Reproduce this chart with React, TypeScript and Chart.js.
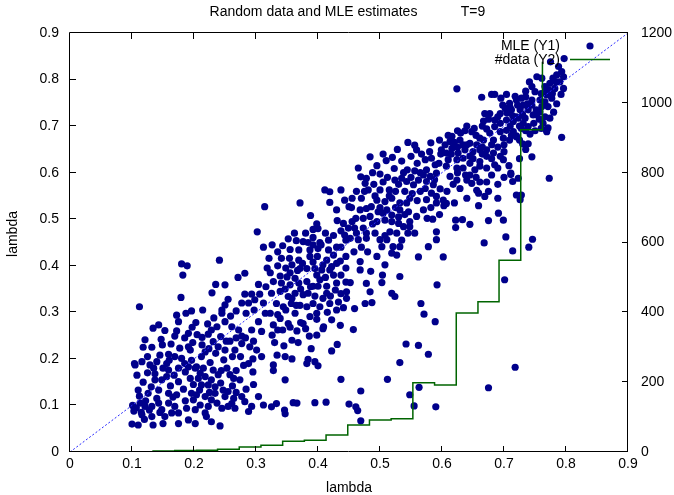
import React, { useEffect, useRef } from "react";
import { Chart, registerables } from "chart.js";
Chart.register(...registerables);

const titleMain = "Random data and MLE estimates";
const titleT = "T=9";
const xTitle = "lambda";
const yTitle = "lambda";
const legendMLE = "MLE (Y1)";
const legendData = "#data (Y2)";

const xTicks = [0, 0.1, 0.2, 0.3, 0.4, 0.5, 0.6, 0.7, 0.8, 0.9];
const xTickLabels = ["0", "0.1", "0.2", "0.3", "0.4", "0.5", "0.6", "0.7", "0.8", "0.9"];
const yTicks = [0, 0.1, 0.2, 0.3, 0.4, 0.5, 0.6, 0.7, 0.8, 0.9];
const yTickLabels = ["0", "0.1", "0.2", "0.3", "0.4", "0.5", "0.6", "0.7", "0.8", "0.9"];
const y2Ticks = [0, 200, 400, 600, 800, 1000, 1200];
const y2TickLabels = ["0", "200", "400", "600", "800", "1000", "1200"];

// #data (Y2) step series
const stepX = [0.099, 0.134, 0.169, 0.204, 0.238, 0.273, 0.308, 0.343, 0.378, 0.413, 0.448, 0.483, 0.518, 0.553, 0.588, 0.623, 0.658, 0.692, 0.727, 0.762];
const stepCount = [1, 3, 4, 5, 8, 14, 19, 31, 34, 49, 77, 92, 95, 198, 192, 398, 430, 549, 923, 1118];

// y = x reference line
const diagX = [0, 0.9];
const diagY = [0, 0.9];

// MLE (Y1) points, grouped by region
const ptsLow = [
  [0.180,0.404],[0.189,0.400],[0.182,0.380],[0.241,0.412],[0.179,0.332],[0.112,0.312],
  [0.271,0.375],[0.282,0.384],[0.235,0.360],[0.250,0.359],[0.229,0.342],[0.304,0.360],
  [0.282,0.339],[0.293,0.339],[0.306,0.339],[0.255,0.328],[0.250,0.316],[0.245,0.305],[0.245,0.298],
  [0.277,0.320],[0.288,0.320],[0.298,0.327],[0.196,0.303],[0.187,0.298],[0.172,0.294],[0.214,0.305],
  [0.175,0.280],[0.203,0.278],[0.143,0.273],[0.134,0.266],[0.153,0.261],[0.172,0.260],[0.169,0.249],
  [0.191,0.255],[0.205,0.252],[0.213,0.246],[0.223,0.253],
  [0.237,0.269],[0.250,0.280],[0.261,0.269],[0.272,0.262],[0.277,0.249],[0.293,0.262],[0.304,0.280],[0.309,0.259],
  [0.121,0.241],[0.147,0.242],[0.149,0.230],[0.132,0.225],[0.118,0.225],
  [0.177,0.223],[0.191,0.226],[0.194,0.219],[0.213,0.230],[0.218,0.215],
  [0.231,0.237],[0.239,0.226],[0.250,0.219],[0.266,0.219],[0.277,0.233],[0.290,0.226],[0.301,0.219],[0.309,0.205],
  [0.159,0.210],[0.169,0.205],[0.180,0.201],[0.185,0.190],[0.196,0.197],[0.204,0.183],[0.212,0.205],
  [0.105,0.187],[0.116,0.194],[0.129,0.187],[0.140,0.194],[0.156,0.190],[0.159,0.176],[0.150,0.180],
  [0.175,0.180],[0.191,0.183],[0.202,0.180],[0.215,0.180],
  [0.231,0.176],[0.239,0.166],[0.253,0.180],[0.258,0.166],[0.264,0.158],[0.274,0.155],[0.280,0.186],[0.288,0.190],
  [0.137,0.155],[0.148,0.155],[0.156,0.162],[0.175,0.151],[0.194,0.158],[0.210,0.169],[0.218,0.162],[0.212,0.144],[0.223,0.144],[0.234,0.140],
  [0.110,0.133],[0.126,0.126],[0.143,0.133],[0.159,0.126],[0.172,0.123],[0.196,0.126],[0.204,0.123],[0.209,0.133],
  [0.218,0.119],[0.234,0.126],[0.250,0.119],[0.255,0.130],[0.261,0.104],[0.277,0.119],[0.304,0.119],
  [0.113,0.105],[0.121,0.098],[0.132,0.098],[0.143,0.105],[0.148,0.091],[0.159,0.105],[0.169,0.098],[0.175,0.084],[0.188,0.094],[0.202,0.091],
  [0.210,0.101],[0.218,0.084],[0.223,0.098],[0.237,0.105],[0.245,0.094],[0.255,0.098],[0.266,0.094],[0.282,0.108],[0.293,0.098],[0.288,0.087],[0.312,0.101],
  [0.116,0.080],[0.132,0.076],[0.153,0.076],[0.164,0.084],[0.220,0.076],[0.228,0.065],[0.202,0.061],[0.191,0.069],[0.175,0.061],[0.150,0.061],
  [0.134,0.058],[0.110,0.058],[0.100,0.060],[0.242,0.056],
  [0.104,0.190],[0.101,0.100],[0.103,0.088],[0.107,0.095],[0.115,0.085],[0.122,0.110],[0.112,0.120],[0.128,0.090],[0.118,0.150],
  [0.125,0.170],[0.135,0.180],[0.108,0.165],[0.140,0.115],[0.131,0.140],[0.145,0.085],[0.120,0.070]
];

const ptsLowFill = [
  [0.162,0.142],[0.168,0.165],[0.183,0.135],[0.186,0.172],[0.199,0.145],[0.207,0.158],[0.225,0.128],[0.228,0.155],[0.243,0.148],[0.247,0.133],
  [0.262,0.142],[0.268,0.128],[0.284,0.135],[0.296,0.145],[0.163,0.232],[0.185,0.245],[0.198,0.235],[0.224,0.222],[0.228,0.262],[0.243,0.248],
  [0.258,0.238],[0.268,0.245],[0.283,0.245],[0.296,0.238],[0.259,0.292],[0.268,0.303],[0.284,0.298],[0.297,0.305],[0.232,0.288],[0.222,0.275],
  [0.197,0.268],[0.160,0.197],[0.145,0.208],[0.125,0.205],[0.137,0.168],[0.166,0.118],[0.186,0.110],[0.199,0.112],[0.228,0.112],[0.264,0.115],
  [0.244,0.175],[0.268,0.175],[0.295,0.172],[0.226,0.192],[0.248,0.198],[0.262,0.205],[0.275,0.205],[0.295,0.200],[0.235,0.212],[0.252,0.238]
];

const ptsMidLow = [
  [0.411,0.563],[0.419,0.559],[0.371,0.535],[0.314,0.527],[0.419,0.536],[0.430,0.520],[0.388,0.508],[0.398,0.490],[0.400,0.480],[0.302,0.473],[0.431,0.497],
  [0.365,0.454],[0.376,0.452],[0.384,0.450],[0.392,0.461],[0.403,0.450],
  [0.343,0.443],[0.355,0.435],[0.369,0.434],[0.387,0.434],[0.400,0.437],[0.417,0.434],[0.430,0.440],
  [0.321,0.416],[0.341,0.416],[0.354,0.416],[0.369,0.412],[0.387,0.420],[0.399,0.420],[0.414,0.412],[0.430,0.405],[0.425,0.423],
  [0.323,0.385],[0.339,0.378],[0.350,0.376],[0.363,0.373],[0.371,0.394],[0.382,0.394],[0.395,0.394],[0.406,0.391],[0.419,0.391],
  [0.328,0.366],[0.341,0.363],[0.355,0.359],[0.369,0.363],[0.382,0.366],[0.392,0.356],[0.403,0.370],[0.414,0.356],[0.430,0.363],
  [0.325,0.341],[0.339,0.345],[0.352,0.334],[0.363,0.341],[0.376,0.338],[0.384,0.341],[0.400,0.356],[0.414,0.341],[0.428,0.348],
  [0.333,0.319],[0.344,0.312],[0.357,0.319],[0.371,0.315],[0.382,0.312],[0.392,0.319],[0.403,0.312],[0.419,0.319],[0.430,0.305],
  [0.323,0.298],[0.339,0.287],[0.352,0.276],[0.363,0.298],[0.376,0.276],[0.387,0.291],[0.398,0.298],[0.409,0.269],[0.422,0.284],[0.328,0.273]
];

const ptsMidLowFill = [
  [0.312,0.320],[0.316,0.355],[0.318,0.395],[0.335,0.400],[0.348,0.395],[0.358,0.402],[0.375,0.405],[0.392,0.408],[0.408,0.402],[0.422,0.398],
  [0.436,0.410],[0.445,0.420],[0.437,0.440],[0.445,0.455],[0.437,0.475],[0.425,0.465],[0.412,0.470],[0.392,0.478],[0.380,0.470],[0.362,0.470],
  [0.352,0.458],[0.335,0.430],[0.326,0.445],[0.312,0.440],[0.347,0.350],[0.358,0.330],[0.372,0.350],[0.388,0.355],[0.395,0.335],[0.408,0.330],
  [0.420,0.335],[0.437,0.340],[0.437,0.380],[0.445,0.395],[0.425,0.380],[0.412,0.375],[0.398,0.380],[0.315,0.298],[0.335,0.295],[0.348,0.305],
  [0.365,0.315],[0.398,0.285],[0.415,0.300],[0.433,0.322],[0.445,0.365],[0.405,0.445],[0.417,0.455],[0.392,0.445],[0.355,0.385],[0.367,0.390]
];

const ptsMid = [
  [0.484,0.634],[0.510,0.626],[0.520,0.633],[0.556,0.659],[0.559,0.649],[0.582,0.664],[0.596,0.670],
  [0.523,0.609],[0.544,0.606],[0.556,0.604],
  [0.488,0.600],[0.500,0.597],[0.469,0.591],[0.478,0.588],[0.476,0.577],
  [0.524,0.584],[0.535,0.588],[0.543,0.581],[0.554,0.574],[0.562,0.584],
  [0.573,0.628],[0.583,0.631],[0.589,0.617],[0.575,0.606],[0.570,0.595],[0.581,0.592],[0.591,0.599],[0.575,0.581],[0.586,0.574],[0.573,0.566],
  [0.583,0.556],[0.591,0.549],[0.575,0.542],[0.591,0.535],
  [0.437,0.563],[0.443,0.541],[0.450,0.527],[0.454,0.525],
  [0.481,0.563],[0.500,0.563],[0.515,0.563],
  [0.495,0.541],[0.508,0.538],[0.519,0.545],[0.532,0.535],[0.543,0.535],[0.532,0.520],[0.546,0.516],[0.559,0.506],
  [0.468,0.520],[0.478,0.523],[0.486,0.527],[0.497,0.516],[0.505,0.513],[0.511,0.520],[0.519,0.509],
  [0.461,0.502],[0.473,0.502],[0.484,0.506],[0.495,0.495],[0.508,0.498],[0.519,0.495],[0.530,0.491],[0.538,0.484],[0.548,0.484],[0.556,0.470],
  [0.576,0.502],
  [0.441,0.491],[0.449,0.481],[0.459,0.481],[0.473,0.481],[0.478,0.470],[0.443,0.466],[0.452,0.459],[0.465,0.456],[0.478,0.459],[0.492,0.470],
  [0.500,0.456],[0.516,0.473],[0.527,0.470],[0.511,0.456],
  [0.503,0.441],[0.521,0.441],[0.532,0.441],[0.519,0.427],[0.527,0.423],
  [0.562,0.419],[0.578,0.441],[0.591,0.456],[0.591,0.473],
  [0.468,0.409],[0.468,0.391],[0.485,0.388],[0.508,0.402],[0.504,0.380],[0.503,0.364],[0.478,0.362],[0.484,0.344],[0.446,0.344],[0.452,0.364],
  [0.532,0.377],[0.519,0.341],[0.524,0.334],[0.592,0.359]
];

const ptsMidFill = [
  [0.455,0.545],[0.462,0.560],[0.470,0.545],[0.475,0.560],[0.490,0.575],[0.492,0.550],[0.505,0.580],[0.512,0.590],[0.515,0.550],[0.525,0.560],
  [0.530,0.575],[0.538,0.600],[0.540,0.560],[0.550,0.590],[0.552,0.555],[0.560,0.620],[0.565,0.560],[0.567,0.640],[0.580,0.645],[0.588,0.585],
  [0.595,0.620],[0.597,0.565],[0.598,0.640],[0.565,0.600],[0.548,0.545],[0.560,0.540],[0.570,0.520],[0.582,0.525],[0.596,0.510],[0.585,0.500],
  [0.540,0.510],[0.525,0.525],[0.500,0.525],[0.488,0.490],[0.462,0.470],[0.455,0.495],[0.470,0.440],[0.458,0.430],[0.480,0.430],[0.495,0.420],
  [0.508,0.465],[0.535,0.455],[0.545,0.470],[0.548,0.495],[0.530,0.505],[0.465,0.610],[0.495,0.615],[0.505,0.640],[0.535,0.625],[0.550,0.635],
  [0.528,0.650],[0.545,0.665]
];

const ptsUpper = [
  [0.624,0.780],[0.664,0.762],[0.680,0.768],[0.685,0.768],[0.704,0.768],[0.718,0.764],
  [0.709,0.749],[0.720,0.756],[0.702,0.738],[0.694,0.727],[0.712,0.735],
  [0.669,0.727],[0.677,0.727],[0.667,0.711],
  [0.685,0.713],[0.694,0.706],[0.704,0.713],[0.715,0.710],[0.720,0.720],
  [0.672,0.694],[0.685,0.699],[0.694,0.688],[0.704,0.691],[0.715,0.688],[0.720,0.677],[0.709,0.670],[0.699,0.674],[0.683,0.670],[0.677,0.685],[0.661,0.674],[0.667,0.670],
  [0.625,0.690],[0.637,0.690],[0.648,0.688],[0.616,0.678],[0.613,0.667],[0.629,0.670],[0.634,0.660],[0.645,0.663],[0.656,0.660],[0.661,0.649],
  [0.672,0.649],[0.683,0.642],[0.694,0.635],[0.672,0.635],[0.685,0.617],[0.661,0.614],[0.672,0.610],
  [0.699,0.628],[0.711,0.599],[0.723,0.588],[0.720,0.552],[0.726,0.542],
  [0.599,0.649],[0.607,0.642],[0.616,0.652],[0.626,0.642],[0.637,0.649],[0.645,0.635],[0.634,0.631],[0.624,0.628],[0.610,0.628],[0.645,0.620],
  [0.661,0.624],[0.653,0.606],[0.634,0.610],[0.624,0.610],[0.645,0.595],[0.624,0.584],[0.640,0.584],[0.648,0.577],[0.629,0.566],[0.613,0.592],[0.607,0.614],
  [0.661,0.580],[0.672,0.580],[0.656,0.562],[0.659,0.556],[0.669,0.549],[0.659,0.529],
  [0.602,0.541],[0.607,0.534],[0.603,0.529],
  [0.691,0.513],[0.675,0.497],[0.699,0.498],[0.645,0.489],[0.633,0.499],[0.622,0.498],[0.622,0.482],[0.602,0.419],[0.668,0.449],[0.703,0.462],[0.714,0.432]
];

const ptsUpperFill = [
  [0.605,0.660],[0.610,0.680],[0.620,0.665],[0.630,0.685],[0.640,0.700],[0.652,0.695],[0.655,0.680],[0.665,0.700],[0.675,0.715],[0.690,0.720],
  [0.698,0.745],[0.705,0.728],[0.714,0.722],[0.722,0.745],[0.728,0.760],[0.735,0.775],[0.745,0.745],[0.752,0.735],[0.760,0.770],[0.768,0.780],
  [0.778,0.770],[0.784,0.795],[0.792,0.768],[0.757,0.715],[0.760,0.695],[0.750,0.690],[0.735,0.690],[0.725,0.670],[0.712,0.680],[0.700,0.660],
  [0.690,0.655],[0.680,0.660],[0.665,0.655],[0.650,0.645],[0.640,0.660],[0.625,0.655],[0.615,0.640],[0.650,0.630],[0.665,0.640],[0.680,0.630],
  [0.690,0.610],[0.700,0.645],[0.708,0.615],[0.735,0.650],[0.725,0.630],[0.625,0.600],[0.638,0.595],[0.655,0.590],[0.618,0.575],[0.608,0.560],
  [0.640,0.545],[0.620,0.535],[0.680,0.595],[0.690,0.575],[0.700,0.590],[0.690,0.545],[0.675,0.560],[0.710,0.740],[0.695,0.760],[0.730,0.725],
  [0.738,0.748],[0.710,0.700],[0.725,0.700],[0.785,0.748],[0.780,0.730]
];

const ptsTop = [
  [0.797,0.845],[0.775,0.838],
  [0.788,0.828],[0.793,0.817],[0.785,0.810],[0.796,0.806],[0.790,0.795],[0.779,0.803],[0.774,0.792],[0.782,0.781],[0.796,0.781],[0.773,0.777],
  [0.766,0.785],[0.761,0.803],[0.753,0.806],[0.769,0.767],[0.777,0.760],[0.766,0.752],[0.758,0.756],[0.761,0.742],[0.771,0.742],[0.758,0.731],
  [0.766,0.720],[0.753,0.724],[0.774,0.717],[0.763,0.706],[0.769,0.688],[0.793,0.676],[0.773,0.588],
  [0.745,0.634],[0.711,0.596],[0.714,0.581],[0.728,0.552],
  [0.741,0.795],[0.745,0.785],[0.750,0.774],[0.735,0.763],[0.745,0.756],[0.731,0.745],[0.739,0.735],[0.726,0.735],[0.747,0.724],[0.734,0.717],
  [0.748,0.706],[0.739,0.699],[0.731,0.706],[0.723,0.717],[0.728,0.695],
  [0.720,0.679],[0.742,0.683],[0.730,0.662],[0.739,0.662],[0.768,0.692],[0.771,0.696],
  [0.746,0.457],[0.740,0.440],[0.701,0.370]
];

const ptsOutliers = [
  [0.566,0.319],[0.571,0.296],[0.589,0.280],[0.542,0.232],[0.562,0.229],[0.578,0.210],[0.532,0.192],[0.718,0.182],[0.675,0.138],
  [0.563,0.139],[0.548,0.123],[0.555,0.099],[0.590,0.097],
  [0.512,0.156],[0.469,0.131],[0.437,0.156],[0.469,0.067],[0.450,0.103],[0.461,0.097],[0.464,0.089],
  [0.413,0.107],[0.395,0.106],[0.360,0.106],[0.366,0.105],[0.346,0.090],[0.347,0.082],[0.333,0.104],[0.325,0.097],[0.347,0.155],
  [0.441,0.310],[0.459,0.308],[0.476,0.319],[0.487,0.321],[0.446,0.330],[0.436,0.272],[0.457,0.263],
  [0.422,0.217],[0.431,0.231],[0.398,0.251],[0.386,0.249],[0.368,0.235],[0.400,0.185],[0.395,0.194],[0.384,0.199],[0.382,0.190],
  [0.358,0.200],[0.347,0.205],[0.334,0.208],[0.328,0.187],[0.328,0.175],[0.389,0.222],
  [0.330,0.235],[0.345,0.228],[0.358,0.240],[0.366,0.260],[0.408,0.265],[0.380,0.265],
  [0.335,0.262],[0.326,0.251],[0.355,0.268],[0.372,0.278],[0.343,0.262]
];

const NAVY = "#00008b";
const GREEN = "#006400";
const FONT = '"Liberation Sans", Arial, Helvetica, sans-serif';

const decorPlugin = {
  id: "decor",
  afterDatasetsDraw(chart: any) {
    const { ctx, chartArea: a, scales } = chart;
    ctx.save();
    ctx.strokeStyle = "#000";
    ctx.lineWidth = 1;
    ctx.beginPath();
    ctx.rect(a.left - 0.5, a.top - 0.5, a.right - a.left, a.bottom - a.top);
    const T = 6;
    xTicks.forEach((v) => {
      const p = Math.round(scales.x.getPixelForValue(v)) - 0.5;
      ctx.moveTo(p, a.bottom);
      ctx.lineTo(p, a.bottom - T);
      ctx.moveTo(p, a.top);
      ctx.lineTo(p, a.top + T);
    });
    yTicks.forEach((v) => {
      const p = Math.round(scales.y.getPixelForValue(v)) - 0.5;
      ctx.moveTo(a.left, p);
      ctx.lineTo(a.left + T, p);
    });
    y2Ticks.forEach((v) => {
      const p = Math.round(scales.y2.getPixelForValue(v)) - 0.5;
      ctx.moveTo(a.right, p);
      ctx.lineTo(a.right - T, p);
    });
    ctx.stroke();
    ctx.restore();
  },
  afterDraw(chart: any) {
    const { ctx, chartArea: a } = chart;
    ctx.save();
    ctx.fillStyle = "#000";
    ctx.font = "14px " + FONT;
    ctx.textBaseline = "alphabetic";
    ctx.textAlign = "center";
    ctx.fillText(titleMain, a.left + 243.5, 16);
    ctx.fillText(titleT, a.left + 403, 16);
    ctx.fillText(xTitle, (a.left + a.right) / 2, 492);
    ctx.save();
    ctx.translate(17, 234);
    ctx.rotate(-Math.PI / 2);
    ctx.fillText(yTitle, 0, 0);
    ctx.restore();
    // key
    ctx.textAlign = "right";
    ctx.textBaseline = "middle";
    ctx.fillText(legendMLE, a.right - 68, a.top + 13);
    ctx.fillText(legendData, a.right - 68, a.top + 27);
    ctx.fillStyle = NAVY;
    ctx.beginPath();
    ctx.arc(a.right - 38, a.top + 13, 3.6, 0, Math.PI * 2);
    ctx.fill();
    ctx.strokeStyle = GREEN;
    ctx.lineWidth = 1.5;
    ctx.beginPath();
    ctx.moveTo(a.right - 58, a.top + 26.5);
    ctx.lineTo(a.right - 18, a.top + 26.5);
    ctx.stroke();
    ctx.restore();
  },
};

export default function App() {
  const ref = useRef<HTMLCanvasElement | null>(null);
  useEffect(() => {
    if (!ref.current) return;
    const allPts = [
      ...ptsLow, ...ptsLowFill, ...ptsMidLow, ...ptsMidLowFill, ...ptsMid, ...ptsMidFill,
      ...ptsUpper, ...ptsUpperFill, ...ptsTop, ...ptsOutliers,
    ].map(([x, y]) => ({ x, y }));
    const tickFont = { size: 14, family: FONT };
    const chart = new Chart(ref.current, {
      type: "scatter",
      data: {
        datasets: [
          {
            type: "line",
            data: diagX.map((x, i) => ({ x, y: diagY[i] })),
            yAxisID: "y",
            borderColor: "#2a2aff",
            borderWidth: 1,
            borderDash: [2, 2],
            pointRadius: 0,
            fill: false,
            order: 1,
          } as any,
          {
            type: "line",
            data: stepX.map((x, i) => ({ x, y: stepCount[i] })),
            yAxisID: "y2",
            borderColor: GREEN,
            borderWidth: 1.5,
            stepped: "before",
            pointRadius: 0,
            fill: false,
            order: 2,
          } as any,
          {
            type: "scatter",
            data: allPts,
            yAxisID: "y",
            pointRadius: 3.6,
            pointBorderWidth: 0,
            pointBackgroundColor: NAVY,
            borderColor: NAVY,
            backgroundColor: NAVY,
            order: 3,
          } as any,
        ],
      },
      options: {
        animation: false,
        responsive: false,
        events: [],
        layout: { padding: { top: 33, left: 0, right: 0, bottom: 0 } },
        plugins: { legend: { display: false }, tooltip: { enabled: false }, title: { display: false } },
        scales: {
          x: {
            type: "linear",
            min: 0,
            max: 0.9,
            afterBuildTicks: (s: any) => { s.ticks = xTicks.map((v) => ({ value: v })); },
            afterFit: (s: any) => { s.height = 43; },
            ticks: { callback: (_v: any, i: number) => xTickLabels[i], font: tickFont, color: "#000", padding: 4, maxRotation: 0, autoSkip: false },
            grid: { display: false, drawTicks: false },
            border: { display: false },
          },
          y: {
            type: "linear",
            position: "left",
            min: 0,
            max: 0.9,
            afterBuildTicks: (s: any) => { s.ticks = yTicks.map((v) => ({ value: v })); },
            afterFit: (s: any) => { s.width = 70; },
            ticks: { callback: (_v: any, i: number) => yTickLabels[i], font: tickFont, color: "#000", padding: 11, autoSkip: false },
            grid: { display: false, drawTicks: false },
            border: { display: false },
          },
          y2: {
            type: "linear",
            position: "right",
            min: 0,
            max: 1200,
            afterBuildTicks: (s: any) => { s.ticks = y2Ticks.map((v) => ({ value: v })); },
            afterFit: (s: any) => { s.width = 46; },
            ticks: { callback: (_v: any, i: number) => y2TickLabels[i], font: tickFont, color: "#000", padding: 13, autoSkip: false },
            grid: { display: false, drawTicks: false },
            border: { display: false },
          },
        },
      } as any,
      plugins: [decorPlugin],
    });
    return () => chart.destroy();
  }, []);
  return (
    <div style={{ position: "fixed", left: 0, top: 0, width: 674, height: 495, background: "#fff" }}>
      <canvas ref={ref} width={674} height={495} style={{ width: 674, height: 495, display: "block" }} />
    </div>
  );
}
